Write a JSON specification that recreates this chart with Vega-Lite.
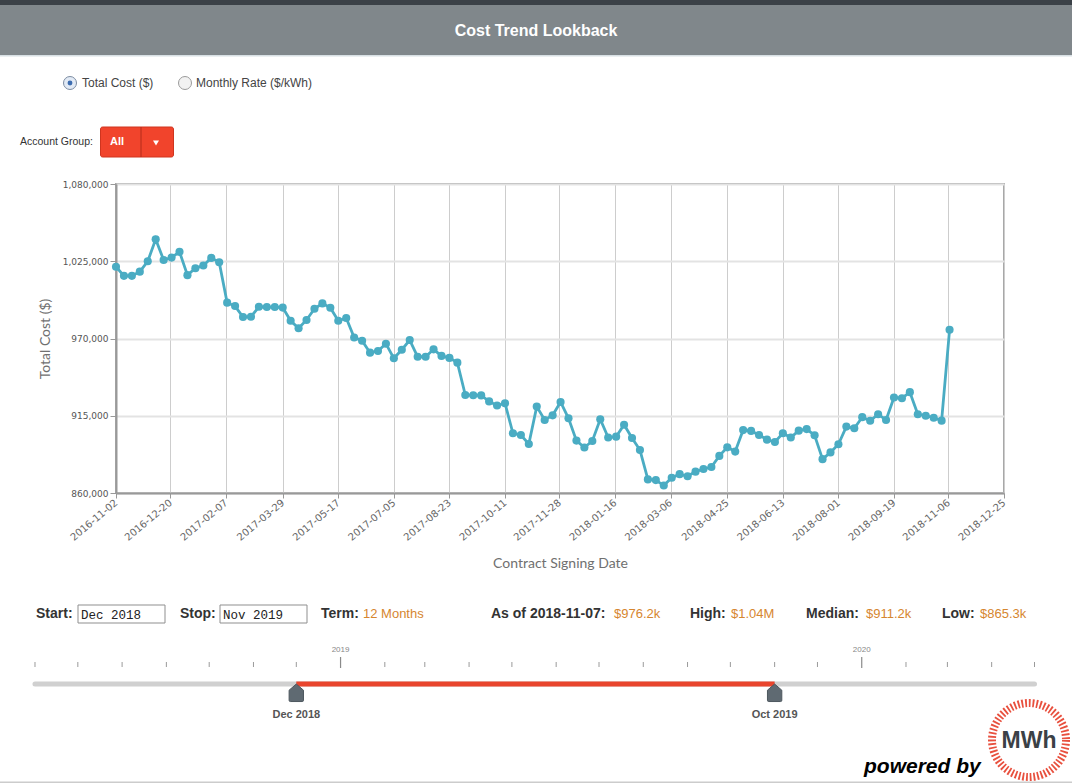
{
"$schema":"https://vega.github.io/schema/vega-lite/v6.json",
"padding":0,
"background":"#ffffff",
"bounds":"flush",
"spacing":0,
"config":{"view":{"stroke":null},"font":"Liberation Sans"},
"datasets":{
"costs":[
{"date":"2016-11-02","cost":1021100},{"date":"2016-11-09","cost":1014600},{"date":"2016-11-16","cost":1014600},{"date":"2016-11-23","cost":1017600},{"date":"2016-11-30","cost":1025000},{"date":"2016-12-07","cost":1040600},{"date":"2016-12-14","cost":1025900},{"date":"2016-12-21","cost":1027600},{"date":"2016-12-28","cost":1031700},
{"date":"2017-01-04","cost":1015100},{"date":"2017-01-11","cost":1020000},{"date":"2017-01-18","cost":1022000},{"date":"2017-01-25","cost":1027400},{"date":"2017-02-01","cost":1024300},{"date":"2017-02-08","cost":995500},{"date":"2017-02-15","cost":993100},{"date":"2017-02-22","cost":985300},
{"date":"2017-03-01","cost":985500},{"date":"2017-03-08","cost":992600},{"date":"2017-03-15","cost":992400},{"date":"2017-03-22","cost":992400},{"date":"2017-03-29","cost":992000},{"date":"2017-04-05","cost":982600},{"date":"2017-04-12","cost":977300},{"date":"2017-04-19","cost":983200},{"date":"2017-04-26","cost":991200},
{"date":"2017-05-03","cost":995000},{"date":"2017-05-10","cost":991900},{"date":"2017-05-17","cost":982600},{"date":"2017-05-24","cost":984600},{"date":"2017-05-31","cost":970700},{"date":"2017-06-07","cost":968400},{"date":"2017-06-14","cost":959900},{"date":"2017-06-21","cost":961100},{"date":"2017-06-28","cost":966300},
{"date":"2017-07-05","cost":955900},{"date":"2017-07-12","cost":962000},{"date":"2017-07-19","cost":968900},{"date":"2017-07-26","cost":957000},{"date":"2017-08-02","cost":957000},{"date":"2017-08-09","cost":962300},{"date":"2017-08-16","cost":957600},{"date":"2017-08-23","cost":956200},{"date":"2017-08-30","cost":952800},
{"date":"2017-09-06","cost":929800},{"date":"2017-09-13","cost":929600},{"date":"2017-09-20","cost":929500},{"date":"2017-09-27","cost":925200},{"date":"2017-10-04","cost":922300},{"date":"2017-10-11","cost":923900},{"date":"2017-10-18","cost":902500},{"date":"2017-10-25","cost":901300},
{"date":"2017-11-01","cost":894900},{"date":"2017-11-08","cost":921500},{"date":"2017-11-15","cost":912000},{"date":"2017-11-22","cost":915300},{"date":"2017-11-29","cost":924800},{"date":"2017-12-06","cost":913200},{"date":"2017-12-13","cost":897300},{"date":"2017-12-20","cost":892400},{"date":"2017-12-27","cost":897000},
{"date":"2018-01-03","cost":912500},{"date":"2018-01-10","cost":899500},{"date":"2018-01-17","cost":900100},{"date":"2018-01-24","cost":908600},{"date":"2018-01-31","cost":899200},{"date":"2018-02-07","cost":890600},{"date":"2018-02-14","cost":869700},{"date":"2018-02-21","cost":869200},{"date":"2018-02-28","cost":865300},
{"date":"2018-03-07","cost":870900},{"date":"2018-03-14","cost":873400},{"date":"2018-03-21","cost":871900},{"date":"2018-03-28","cost":875200},{"date":"2018-04-04","cost":877100},{"date":"2018-04-11","cost":878500},{"date":"2018-04-18","cost":886400},{"date":"2018-04-25","cost":892500},
{"date":"2018-05-02","cost":889500},{"date":"2018-05-09","cost":904800},{"date":"2018-05-16","cost":904200},{"date":"2018-05-23","cost":901300},{"date":"2018-05-30","cost":898000},{"date":"2018-06-06","cost":896300},{"date":"2018-06-13","cost":902500},{"date":"2018-06-20","cost":899500},{"date":"2018-06-27","cost":904400},
{"date":"2018-07-04","cost":905500},{"date":"2018-07-11","cost":901100},{"date":"2018-07-18","cost":884100},{"date":"2018-07-25","cost":888900},{"date":"2018-08-01","cost":894700},{"date":"2018-08-08","cost":907300},{"date":"2018-08-15","cost":906100},{"date":"2018-08-22","cost":914000},{"date":"2018-08-29","cost":911400},
{"date":"2018-09-05","cost":916100},{"date":"2018-09-12","cost":912000},{"date":"2018-09-19","cost":928000},{"date":"2018-09-26","cost":927500},{"date":"2018-10-03","cost":931800},{"date":"2018-10-10","cost":916100},{"date":"2018-10-17","cost":915000},{"date":"2018-10-24","cost":913600},{"date":"2018-10-31","cost":911500},{"date":"2018-11-07","cost":976200}
],
"months":[{"d":"2018-06-01"},{"d":"2018-07-01"},{"d":"2018-08-01"},{"d":"2018-09-01"},{"d":"2018-10-01"},{"d":"2018-11-01"},{"d":"2018-12-01"},{"d":"2019-02-01"},{"d":"2019-03-01"},{"d":"2019-04-01"},{"d":"2019-05-01"},{"d":"2019-06-01"},{"d":"2019-07-01"},{"d":"2019-08-01"},{"d":"2019-09-01"},{"d":"2019-10-01"},{"d":"2019-11-01"},{"d":"2019-12-01"},{"d":"2020-02-01"},{"d":"2020-03-01"},{"d":"2020-04-01"},{"d":"2020-05-01"}],
"years":[{"d":"2019-01-01","label":"2019"},{"d":"2020-01-01","label":"2020"}],
"handles":[{"d":"2018-12-01","label":"Dec 2018"},{"d":"2019-11-01","label":"Oct 2019"}]
},
"vconcat":[
{"width":956,"height":57,
"layer":[
{"data":{"values":[{"part":"top strip"}]},"mark":{"type":"rect","fill":"#3b4147"},"encoding":{"x":{"datum":0,"type":"quantitative","scale":{"domain":[116,1072],"nice":false,"zero":false},"axis":null},"x2":{"datum":1072},"y":{"datum":0,"type":"quantitative","scale":{"domain":[0,57],"nice":false,"zero":false,"reverse":true},"axis":null},"y2":{"datum":5}}},
{"data":{"values":[{"part":"title bar"}]},"mark":{"type":"rect","fill":"#80878b"},"encoding":{"x":{"datum":0,"type":"quantitative","scale":{"domain":[116,1072],"nice":false,"zero":false},"axis":null},"x2":{"datum":1072},"y":{"datum":5,"type":"quantitative","scale":{"domain":[0,57],"nice":false,"zero":false,"reverse":true},"axis":null},"y2":{"datum":55}}},
{"data":{"values":[{"part":"bar edge"}]},"mark":{"type":"rect","fill":"#d8e0e4"},"encoding":{"x":{"datum":0,"type":"quantitative","scale":{"domain":[116,1072],"nice":false,"zero":false},"axis":null},"x2":{"datum":1072},"y":{"datum":55,"type":"quantitative","scale":{"domain":[0,57],"nice":false,"zero":false,"reverse":true},"axis":null},"y2":{"datum":56.5}}},
{"data":{"values":[{"label":"Cost Trend Lookback"}]},"mark":{"type":"text","align":"center","baseline":"middle","font":"Liberation Sans","fontSize":16,"fontWeight":"bold","color":"#ffffff"},"encoding":{"x":{"datum":536,"type":"quantitative","scale":{"domain":[116,1072],"nice":false,"zero":false},"axis":null},"y":{"datum":31,"type":"quantitative","scale":{"domain":[0,57],"nice":false,"zero":false,"reverse":true},"axis":null},"text":{"field":"label"}}}
]},
{"width":956,"height":127,
"layer":[
{"data":{"values":[{"part":"radio total"}]},"mark":{"type":"point","shape":"circle","filled":true,"size":169,"fill":"#e2eaf5","stroke":"#7c8ca2","strokeWidth":1,"opacity":1},"encoding":{"x":{"datum":70,"type":"quantitative","scale":{"domain":[116,1072],"nice":false,"zero":false},"axis":null},"y":{"datum":83,"type":"quantitative","scale":{"domain":[57,184],"nice":false,"zero":false,"reverse":true},"axis":null}}},
{"data":{"values":[{"part":"radio dot"}]},"mark":{"type":"point","shape":"circle","filled":true,"size":24,"fill":"#3d6db0","strokeWidth":0,"opacity":1},"encoding":{"x":{"datum":70,"type":"quantitative","scale":{"domain":[116,1072],"nice":false,"zero":false},"axis":null},"y":{"datum":83,"type":"quantitative","scale":{"domain":[57,184],"nice":false,"zero":false,"reverse":true},"axis":null}}},
{"data":{"values":[{"part":"radio rate"}]},"mark":{"type":"point","shape":"circle","filled":true,"size":169,"fill":"#f2f2f2","stroke":"#9b9b9b","strokeWidth":1,"opacity":1},"encoding":{"x":{"datum":185,"type":"quantitative","scale":{"domain":[116,1072],"nice":false,"zero":false},"axis":null},"y":{"datum":83,"type":"quantitative","scale":{"domain":[57,184],"nice":false,"zero":false,"reverse":true},"axis":null}}},
{"data":{"values":[{"label":"Total Cost ($)"}]},"mark":{"type":"text","align":"left","baseline":"middle","fontSize":12,"color":"#444444"},"encoding":{"x":{"datum":82,"type":"quantitative","scale":{"domain":[116,1072],"nice":false,"zero":false},"axis":null},"y":{"datum":83,"type":"quantitative","scale":{"domain":[57,184],"nice":false,"zero":false,"reverse":true},"axis":null},"text":{"field":"label"}}},
{"data":{"values":[{"label":"Monthly Rate ($/kWh)"}]},"mark":{"type":"text","align":"left","baseline":"middle","fontSize":12,"color":"#444444"},"encoding":{"x":{"datum":196,"type":"quantitative","scale":{"domain":[116,1072],"nice":false,"zero":false},"axis":null},"y":{"datum":83,"type":"quantitative","scale":{"domain":[57,184],"nice":false,"zero":false,"reverse":true},"axis":null},"text":{"field":"label"}}},
{"data":{"values":[{"label":"Account Group:"}]},"mark":{"type":"text","align":"left","baseline":"middle","fontSize":10.5,"color":"#333333"},"encoding":{"x":{"datum":20,"type":"quantitative","scale":{"domain":[116,1072],"nice":false,"zero":false},"axis":null},"y":{"datum":142,"type":"quantitative","scale":{"domain":[57,184],"nice":false,"zero":false,"reverse":true},"axis":null},"text":{"field":"label"}}},
{"data":{"values":[{"part":"dropdown"}]},"mark":{"type":"rect","fill":"#f1442c","stroke":"#cf351f","strokeWidth":1,"cornerRadius":2},"encoding":{"x":{"datum":100.5,"type":"quantitative","scale":{"domain":[116,1072],"nice":false,"zero":false},"axis":null},"x2":{"datum":173.5},"y":{"datum":127,"type":"quantitative","scale":{"domain":[57,184],"nice":false,"zero":false,"reverse":true},"axis":null},"y2":{"datum":157}}},
{"data":{"values":[{"part":"divider"}]},"mark":{"type":"rule","color":"#b42d1b","strokeWidth":1},"encoding":{"x":{"datum":141,"type":"quantitative","scale":{"domain":[116,1072],"nice":false,"zero":false},"axis":null},"y":{"datum":127,"type":"quantitative","scale":{"domain":[57,184],"nice":false,"zero":false,"reverse":true},"axis":null},"y2":{"datum":157}}},
{"data":{"values":[{"label":"All"}]},"mark":{"type":"text","align":"center","baseline":"middle","fontSize":11,"fontWeight":"bold","color":"#ffffff"},"encoding":{"x":{"datum":117,"type":"quantitative","scale":{"domain":[116,1072],"nice":false,"zero":false},"axis":null},"y":{"datum":142,"type":"quantitative","scale":{"domain":[57,184],"nice":false,"zero":false,"reverse":true},"axis":null},"text":{"field":"label"}}},
{"data":{"values":[{"part":"arrow"}]},"mark":{"type":"point","shape":"triangle-down","filled":true,"size":36,"fill":"#ffffff","strokeWidth":0,"opacity":1},"encoding":{"x":{"datum":156,"type":"quantitative","scale":{"domain":[116,1072],"nice":false,"zero":false},"axis":null},"y":{"datum":143,"type":"quantitative","scale":{"domain":[57,184],"nice":false,"zero":false,"reverse":true},"axis":null}}}
]},
{"width":888,"height":309,
"view":{"stroke":"#a8a8a8","strokeWidth":2},
"data":{"name":"costs"},
"mark":{"type":"line","color":"#4aacc3","strokeWidth":2.8,"point":{"filled":true,"size":66,"color":"#4aacc3","opacity":1}},
"encoding":{
"x":{"field":"date","type":"temporal","scale":{"type":"utc","domain":[{"year":2016,"month":11,"date":2,"utc":true},{"year":2018,"month":12,"date":25,"utc":true}],"nice":false},
"axis":{"title":"Contract Signing Date","values":[{"year":2016,"month":11,"date":2,"utc":true},{"year":2016,"month":12,"date":20,"utc":true},{"year":2017,"month":2,"date":7,"utc":true},{"year":2017,"month":3,"date":29,"utc":true},{"year":2017,"month":5,"date":17,"utc":true},{"year":2017,"month":7,"date":5,"utc":true},{"year":2017,"month":8,"date":23,"utc":true},{"year":2017,"month":10,"date":11,"utc":true},{"year":2017,"month":11,"date":28,"utc":true},{"year":2018,"month":1,"date":16,"utc":true},{"year":2018,"month":3,"date":6,"utc":true},{"year":2018,"month":4,"date":25,"utc":true},{"year":2018,"month":6,"date":13,"utc":true},{"year":2018,"month":8,"date":1,"utc":true},{"year":2018,"month":9,"date":19,"utc":true},{"year":2018,"month":11,"date":6,"utc":true},{"year":2018,"month":12,"date":25,"utc":true}],
"labelExpr":"utcFormat(datum.value, '%Y-%m-%d')","labelAngle":-40,"labelAlign":"right","labelBaseline":"middle","labelFont":"DejaVu Sans","labelFontSize":10,"labelColor":"#666666","labelPadding":3,"labelFlush":false,"labelOverlap":false,"tickSize":5,"tickColor":"#999999","domainColor":"#999999","domainWidth":2,"gridColor":"#cdcdcd","gridWidth":1,"titleFont":"Lato","titleFontSize":14,"titleFontWeight":"normal","titleColor":"#707070","titlePadding":14}},
"y":{"field":"cost","type":"quantitative","scale":{"domain":[860000,1080000],"nice":false,"zero":false},
"axis":{"title":"Total Cost ($)","values":[860000,915000,970000,1025000,1080000],"format":",d","labelFont":"DejaVu Sans","labelFontSize":9,"labelColor":"#555555","labelPadding":2,"labelFlush":false,"tickSize":6,"tickColor":"#999999","domainColor":"#999999","domainWidth":2,"gridColor":"#e3e3e3","gridWidth":2,"titleFont":"Lato","titleFontSize":14,"titleFontWeight":"normal","titleColor":"#707070","titlePadding":10}}
}},
{"width":956,"height":147,
"layer":[
{"data":{"values":[{"part":"start box"}]},"mark":{"type":"rect","fill":"#ffffff","stroke":"#8f8f8f","strokeWidth":1},"encoding":{"x":{"datum":78,"type":"quantitative","scale":{"domain":[116,1072],"nice":false,"zero":false},"axis":null},"x2":{"datum":165},"y":{"datum":605,"type":"quantitative","scale":{"domain":[493,640],"nice":false,"zero":false,"reverse":true},"axis":null},"y2":{"datum":623}}},
{"data":{"values":[{"part":"stop box"}]},"mark":{"type":"rect","fill":"#ffffff","stroke":"#8f8f8f","strokeWidth":1},"encoding":{"x":{"datum":220,"type":"quantitative","scale":{"domain":[116,1072],"nice":false,"zero":false},"axis":null},"x2":{"datum":307},"y":{"datum":605,"type":"quantitative","scale":{"domain":[493,640],"nice":false,"zero":false,"reverse":true},"axis":null},"y2":{"datum":623}}},
{"data":{"values":[{"label":"Start:"}]},"mark":{"type":"text","align":"left","baseline":"middle","fontSize":14,"fontWeight":"bold","color":"#333333"},"encoding":{"x":{"datum":36,"type":"quantitative","scale":{"domain":[116,1072],"nice":false,"zero":false},"axis":null},"y":{"datum":614,"type":"quantitative","scale":{"domain":[493,640],"nice":false,"zero":false,"reverse":true},"axis":null},"text":{"field":"label"}}},
{"data":{"values":[{"label":"Dec 2018"}]},"mark":{"type":"text","align":"left","baseline":"middle","font":"Liberation Mono","fontSize":12.5,"color":"#222222"},"encoding":{"x":{"datum":81,"type":"quantitative","scale":{"domain":[116,1072],"nice":false,"zero":false},"axis":null},"y":{"datum":615,"type":"quantitative","scale":{"domain":[493,640],"nice":false,"zero":false,"reverse":true},"axis":null},"text":{"field":"label"}}},
{"data":{"values":[{"label":"Stop:"}]},"mark":{"type":"text","align":"left","baseline":"middle","fontSize":14,"fontWeight":"bold","color":"#333333"},"encoding":{"x":{"datum":180,"type":"quantitative","scale":{"domain":[116,1072],"nice":false,"zero":false},"axis":null},"y":{"datum":614,"type":"quantitative","scale":{"domain":[493,640],"nice":false,"zero":false,"reverse":true},"axis":null},"text":{"field":"label"}}},
{"data":{"values":[{"label":"Nov 2019"}]},"mark":{"type":"text","align":"left","baseline":"middle","font":"Liberation Mono","fontSize":12.5,"color":"#222222"},"encoding":{"x":{"datum":223,"type":"quantitative","scale":{"domain":[116,1072],"nice":false,"zero":false},"axis":null},"y":{"datum":615,"type":"quantitative","scale":{"domain":[493,640],"nice":false,"zero":false,"reverse":true},"axis":null},"text":{"field":"label"}}},
{"data":{"values":[{"label":"Term:"}]},"mark":{"type":"text","align":"left","baseline":"middle","fontSize":14,"fontWeight":"bold","color":"#333333"},"encoding":{"x":{"datum":321,"type":"quantitative","scale":{"domain":[116,1072],"nice":false,"zero":false},"axis":null},"y":{"datum":614,"type":"quantitative","scale":{"domain":[493,640],"nice":false,"zero":false,"reverse":true},"axis":null},"text":{"field":"label"}}},
{"data":{"values":[{"label":"12 Months"}]},"mark":{"type":"text","align":"left","baseline":"middle","fontSize":13,"color":"#d6862f"},"encoding":{"x":{"datum":363,"type":"quantitative","scale":{"domain":[116,1072],"nice":false,"zero":false},"axis":null},"y":{"datum":614,"type":"quantitative","scale":{"domain":[493,640],"nice":false,"zero":false,"reverse":true},"axis":null},"text":{"field":"label"}}},
{"data":{"values":[{"label":"As of 2018-11-07:"}]},"mark":{"type":"text","align":"left","baseline":"middle","fontSize":14,"fontWeight":"bold","color":"#333333"},"encoding":{"x":{"datum":491,"type":"quantitative","scale":{"domain":[116,1072],"nice":false,"zero":false},"axis":null},"y":{"datum":614,"type":"quantitative","scale":{"domain":[493,640],"nice":false,"zero":false,"reverse":true},"axis":null},"text":{"field":"label"}}},
{"data":{"values":[{"label":"$976.2k"}]},"mark":{"type":"text","align":"left","baseline":"middle","fontSize":13,"color":"#d6862f"},"encoding":{"x":{"datum":614,"type":"quantitative","scale":{"domain":[116,1072],"nice":false,"zero":false},"axis":null},"y":{"datum":614,"type":"quantitative","scale":{"domain":[493,640],"nice":false,"zero":false,"reverse":true},"axis":null},"text":{"field":"label"}}},
{"data":{"values":[{"label":"High:"}]},"mark":{"type":"text","align":"left","baseline":"middle","fontSize":14,"fontWeight":"bold","color":"#333333"},"encoding":{"x":{"datum":690,"type":"quantitative","scale":{"domain":[116,1072],"nice":false,"zero":false},"axis":null},"y":{"datum":614,"type":"quantitative","scale":{"domain":[493,640],"nice":false,"zero":false,"reverse":true},"axis":null},"text":{"field":"label"}}},
{"data":{"values":[{"label":"$1.04M"}]},"mark":{"type":"text","align":"left","baseline":"middle","fontSize":13,"color":"#d6862f"},"encoding":{"x":{"datum":731,"type":"quantitative","scale":{"domain":[116,1072],"nice":false,"zero":false},"axis":null},"y":{"datum":614,"type":"quantitative","scale":{"domain":[493,640],"nice":false,"zero":false,"reverse":true},"axis":null},"text":{"field":"label"}}},
{"data":{"values":[{"label":"Median:"}]},"mark":{"type":"text","align":"left","baseline":"middle","fontSize":14,"fontWeight":"bold","color":"#333333"},"encoding":{"x":{"datum":806,"type":"quantitative","scale":{"domain":[116,1072],"nice":false,"zero":false},"axis":null},"y":{"datum":614,"type":"quantitative","scale":{"domain":[493,640],"nice":false,"zero":false,"reverse":true},"axis":null},"text":{"field":"label"}}},
{"data":{"values":[{"label":"$911.2k"}]},"mark":{"type":"text","align":"left","baseline":"middle","fontSize":13,"color":"#d6862f"},"encoding":{"x":{"datum":866,"type":"quantitative","scale":{"domain":[116,1072],"nice":false,"zero":false},"axis":null},"y":{"datum":614,"type":"quantitative","scale":{"domain":[493,640],"nice":false,"zero":false,"reverse":true},"axis":null},"text":{"field":"label"}}},
{"data":{"values":[{"label":"Low:"}]},"mark":{"type":"text","align":"left","baseline":"middle","fontSize":14,"fontWeight":"bold","color":"#333333"},"encoding":{"x":{"datum":942,"type":"quantitative","scale":{"domain":[116,1072],"nice":false,"zero":false},"axis":null},"y":{"datum":614,"type":"quantitative","scale":{"domain":[493,640],"nice":false,"zero":false,"reverse":true},"axis":null},"text":{"field":"label"}}},
{"data":{"values":[{"label":"$865.3k"}]},"mark":{"type":"text","align":"left","baseline":"middle","fontSize":13,"color":"#d6862f"},"encoding":{"x":{"datum":980,"type":"quantitative","scale":{"domain":[116,1072],"nice":false,"zero":false},"axis":null},"y":{"datum":614,"type":"quantitative","scale":{"domain":[493,640],"nice":false,"zero":false,"reverse":true},"axis":null},"text":{"field":"label"}}}
]},
{"width":956,"height":90,
"layer":[
{"data":{"name":"months"},"mark":{"type":"rule","color":"#9a9a9a","strokeWidth":1},"encoding":{"x":{"field":"d","type":"temporal","scale":{"type":"utc","domain":[{"year":2018,"month":7,"date":27,"hours":17,"minutes":31,"utc":true},{"year":2020,"month":5,"date":27,"hours":6,"minutes":15,"utc":true}],"nice":false},"axis":null},"y":{"datum":662,"type":"quantitative","scale":{"domain":[640,730],"nice":false,"zero":false,"reverse":true},"axis":null},"y2":{"datum":667}}},
{"data":{"name":"years"},"mark":{"type":"rule","color":"#8a8a8a","strokeWidth":1.2},"encoding":{"x":{"field":"d","type":"temporal","scale":{"type":"utc","domain":[{"year":2018,"month":7,"date":27,"hours":17,"minutes":31,"utc":true},{"year":2020,"month":5,"date":27,"hours":6,"minutes":15,"utc":true}],"nice":false},"axis":null},"y":{"datum":657,"type":"quantitative","scale":{"domain":[640,730],"nice":false,"zero":false,"reverse":true},"axis":null},"y2":{"datum":668}}},
{"data":{"name":"years"},"mark":{"type":"text","align":"center","baseline":"middle","fontSize":8,"color":"#888888"},"encoding":{"x":{"field":"d","type":"temporal","scale":{"type":"utc","domain":[{"year":2018,"month":7,"date":27,"hours":17,"minutes":31,"utc":true},{"year":2020,"month":5,"date":27,"hours":6,"minutes":15,"utc":true}],"nice":false},"axis":null},"y":{"datum":650,"type":"quantitative","scale":{"domain":[640,730],"nice":false,"zero":false,"reverse":true},"axis":null},"text":{"field":"label"}}},
{"data":{"values":[{"from":"2018-06-01","to":"2020-05-01","part":"track"}]},"mark":{"type":"rule","color":"#d0d0d0","strokeWidth":5,"strokeCap":"round"},"encoding":{"x":{"field":"from","type":"temporal","scale":{"type":"utc","domain":[{"year":2018,"month":7,"date":27,"hours":17,"minutes":31,"utc":true},{"year":2020,"month":5,"date":27,"hours":6,"minutes":15,"utc":true}],"nice":false},"axis":null},"x2":{"field":"to"},"y":{"datum":684,"type":"quantitative","scale":{"domain":[640,730],"nice":false,"zero":false,"reverse":true},"axis":null}}},
{"data":{"values":[{"from":"2018-12-01","to":"2019-11-01","part":"selected"}]},"mark":{"type":"rule","color":"#e9452d","strokeWidth":5},"encoding":{"x":{"field":"from","type":"temporal","scale":{"type":"utc","domain":[{"year":2018,"month":7,"date":27,"hours":17,"minutes":31,"utc":true},{"year":2020,"month":5,"date":27,"hours":6,"minutes":15,"utc":true}],"nice":false},"axis":null},"x2":{"field":"to"},"y":{"datum":684,"type":"quantitative","scale":{"domain":[640,730],"nice":false,"zero":false,"reverse":true},"axis":null}}},
{"data":{"name":"handles"},"mark":{"type":"point","shape":"M0,-1L0.82,-0.3L0.82,0.86Q0.82,1,0.68,1L-0.68,1Q-0.82,1,-0.82,0.86L-0.82,-0.3Z","filled":true,"size":306,"fill":"#5f6a72","stroke":"#4d575e","strokeWidth":1,"opacity":1},"encoding":{"x":{"field":"d","type":"temporal","scale":{"type":"utc","domain":[{"year":2018,"month":7,"date":27,"hours":17,"minutes":31,"utc":true},{"year":2020,"month":5,"date":27,"hours":6,"minutes":15,"utc":true}],"nice":false},"axis":null},"y":{"datum":692.8,"type":"quantitative","scale":{"domain":[640,730],"nice":false,"zero":false,"reverse":true},"axis":null}}},
{"data":{"name":"handles"},"mark":{"type":"text","align":"center","baseline":"middle","fontSize":11,"fontWeight":"bold","color":"#555555"},"encoding":{"x":{"field":"d","type":"temporal","scale":{"type":"utc","domain":[{"year":2018,"month":7,"date":27,"hours":17,"minutes":31,"utc":true},{"year":2020,"month":5,"date":27,"hours":6,"minutes":15,"utc":true}],"nice":false},"axis":null},"y":{"datum":715,"type":"quantitative","scale":{"domain":[640,730],"nice":false,"zero":false,"reverse":true},"axis":null},"text":{"field":"label"}}}
]},
{"width":956,"height":53,
"layer":[
{"data":{"values":[{"part":"bottom line"}]},"mark":{"type":"rect","fill":"#cccccc"},"encoding":{"x":{"datum":0,"type":"quantitative","scale":{"domain":[116,1072],"nice":false,"zero":false},"axis":null},"x2":{"datum":1072},"y":{"datum":781.5,"type":"quantitative","scale":{"domain":[730,783],"nice":false,"zero":false,"reverse":true},"axis":null},"y2":{"datum":783}}},
{"data":{"values":[{"part":"logo ring"}]},"mark":{"type":"point","shape":"circle","filled":false,"size":5476,"stroke":"#e8503e","strokeWidth":8,"strokeDash":[1.8,1.9],"fill":"#ffffff","opacity":1},"encoding":{"x":{"datum":1029,"type":"quantitative","scale":{"domain":[116,1072],"nice":false,"zero":false},"axis":null},"y":{"datum":740,"type":"quantitative","scale":{"domain":[730,783],"nice":false,"zero":false,"reverse":true},"axis":null}}},
{"data":{"values":[{"label":"MWh"}]},"mark":{"type":"text","align":"center","baseline":"middle","fontSize":23,"fontWeight":"bold","color":"#3b4146"},"encoding":{"x":{"datum":1029,"type":"quantitative","scale":{"domain":[116,1072],"nice":false,"zero":false},"axis":null},"y":{"datum":741,"type":"quantitative","scale":{"domain":[730,783],"nice":false,"zero":false,"reverse":true},"axis":null},"text":{"field":"label"}}},
{"data":{"values":[{"label":"powered by"}]},"mark":{"type":"text","align":"left","baseline":"alphabetic","fontSize":21,"fontWeight":"bold","fontStyle":"italic","color":"#000000"},"encoding":{"x":{"datum":864,"type":"quantitative","scale":{"domain":[116,1072],"nice":false,"zero":false},"axis":null},"y":{"datum":773,"type":"quantitative","scale":{"domain":[730,783],"nice":false,"zero":false,"reverse":true},"axis":null},"text":{"field":"label"}}}
]}
]
}
